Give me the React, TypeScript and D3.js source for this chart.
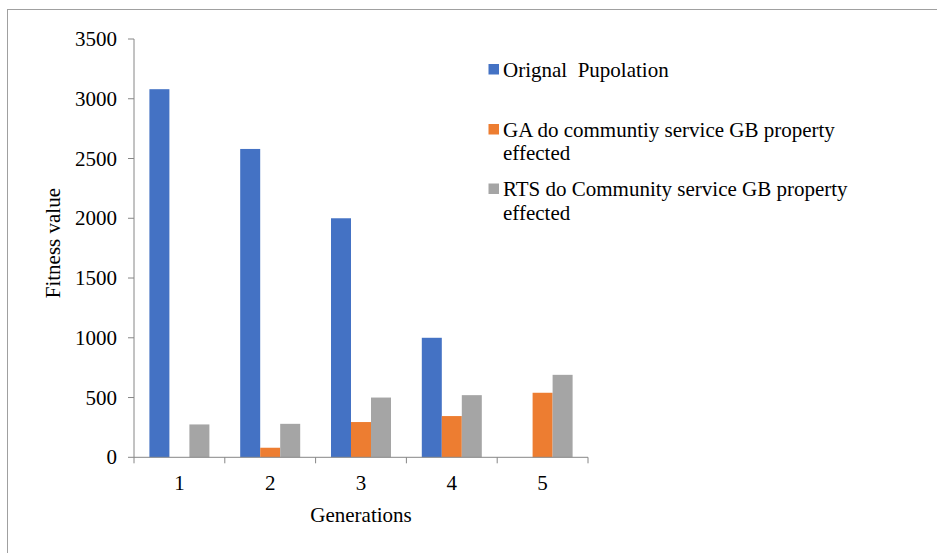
import React from "react";
import * as d3 from "d3";

const categories = ["1", "2", "3", "4", "5"];
const seriesNames = [
  "Orignal  Pupolation",
  "GA do communtiy service GB property effected",
  "RTS do Community service GB property effected",
];
const originalPopulation = [3080, 2580, 2000, 1000, 0];
const gaValues = [0, 80, 295, 345, 540];
const rtsValues = [275, 280, 500, 520, 690];
const yTicks = [0, 500, 1000, 1500, 2000, 2500, 3000, 3500];
const legendLines = [
  ["Orignal  Pupolation"],
  ["GA do communtiy service GB property", "effected"],
  ["RTS do Community service GB property", "effected"],
];
const colors = ["#4472C4", "#ED7D31", "#A5A5A5"];

const W = 937;
const H = 553;
const left = 134;
const right = 588;
const top = 39;
const bottom = 457.3;
const font = "Liberation Serif";
const fs = 21;

export default function App() {
  const x0 = d3.scaleBand<string>().domain(categories).range([left, right]).paddingInner(0).paddingOuter(0);
  const bw = x0.bandwidth();
  const gap = bw - 60;
  const x1 = d3.scaleBand<string>().domain(seriesNames).range([gap / 2, bw - gap / 2]).padding(0);
  const y = d3.scaleLinear().domain([0, 3500]).range([bottom, top]);
  const series = [originalPopulation, gaValues, rtsValues];
  const axisColor = "#868686";

  const legendY = [
    { sq: 64, lines: [76.7] },
    { sq: 124, lines: [136.7, 159.7] },
    { sq: 183.5, lines: [196.2, 219.5] },
  ];

  const textProps = { fontFamily: font, fontSize: fs, fill: "#000" };

  return (
    <svg width={W} height={H} style={{ position: "absolute", left: 0, top: 0, background: "#fff" }}>
      <rect x={7.5} y={9.5} width={W + 20} height={H + 20} fill="#fff" stroke="#a0a0a0" strokeWidth={1} />
      {series.map((vals, si) =>
        vals.map((v, ci) =>
          v > 0 ? (
            <rect
              key={`${si}-${ci}`}
              x={(x0(categories[ci]) as number) + (x1(seriesNames[si]) as number)}
              y={y(v)}
              width={x1.bandwidth()}
              height={y(0) - y(v)}
              fill={colors[si]}
            />
          ) : null
        )
      )}
      <line x1={left} x2={left} y1={top} y2={bottom} stroke={axisColor} strokeWidth={1} />
      {yTicks.map((t) => (
        <g key={t}>
          <line x1={left - 6} x2={left} y1={y(t)} y2={y(t)} stroke={axisColor} strokeWidth={1} />
          <text x={117} y={y(t)} dy="0.34em" textAnchor="end" {...textProps}>
            {t}
          </text>
        </g>
      ))}
      <line x1={left} x2={right} y1={bottom} y2={bottom} stroke={axisColor} strokeWidth={1} />
      {[...categories.map((c) => x0(c) as number), right].map((xv, i) => (
        <line key={i} x1={xv} x2={xv} y1={bottom} y2={bottom + 6} stroke={axisColor} strokeWidth={1} />
      ))}
      {categories.map((c) => (
        <text key={c} x={(x0(c) as number) + bw / 2} y={490} textAnchor="middle" {...textProps}>
          {c}
        </text>
      ))}
      <text x={(left + right) / 2} y={521.7} textAnchor="middle" {...textProps}>
        Generations
      </text>
      <text transform={`translate(60, ${(top + bottom) / 2 - 5}) rotate(-90)`} textAnchor="middle" {...textProps}>
        Fitness value
      </text>
      {legendLines.map((lines, i) => (
        <g key={i}>
          <rect x={488.5} y={legendY[i].sq} width={10.5} height={10.5} fill={colors[i]} />
          {lines.map((ln, j) => (
            <text key={j} x={503} y={legendY[i].lines[j]} {...textProps} style={{ whiteSpace: "pre" }}>
              {ln}
            </text>
          ))}
        </g>
      ))}
    </svg>
  );
}
